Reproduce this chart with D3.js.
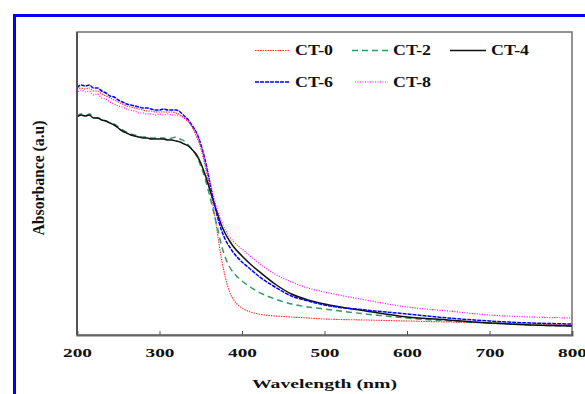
<!DOCTYPE html>
<html><head><meta charset="utf-8">
<script src="https://cdn.jsdelivr.net/npm/d3@7"></script>
<style>html,body{margin:0;padding:0;background:#fff;}svg{display:block;}</style>
</head><body>
<svg id="chart" width="585" height="394"></svg>
<script>
const wavelengths = [200,205,210,215,220,225,230,235,240,245,250,255,260,265,270,275,280,285,290,295,300,305,310,315,320,325,330,335,340,345,350,355,360,365,370,375,380,385,390,400,410,420,440,460,480,500,550,600,650,700,750,800];
const ct0 = [2.45,2.47,2.46,2.47,2.44,2.44,2.41,2.39,2.37,2.35,2.33,2.31,2.29,2.28,2.27,2.26,2.25,2.24,2.24,2.23,2.23,2.23,2.23,2.23,2.22,2.20,2.17,2.13,2.07,1.98,1.87,1.70,1.50,1.29,1.03,0.77,0.57,0.43,0.35,0.27,0.23,0.21,0.19,0.18,0.17,0.16,0.15,0.14,0.13,0.12,0.11,0.10];
const ct2 = [2.19,2.21,2.19,2.21,2.18,2.17,2.16,2.14,2.12,2.11,2.08,2.05,2.03,2.01,2.00,1.99,1.98,1.98,1.97,1.97,1.97,1.97,1.96,1.97,1.98,1.96,1.94,1.90,1.85,1.79,1.69,1.57,1.42,1.25,1.08,0.90,0.77,0.68,0.62,0.54,0.48,0.43,0.36,0.31,0.28,0.26,0.21,0.17,0.14,0.12,0.10,0.09];
const ct4 = [2.18,2.20,2.19,2.20,2.17,2.17,2.15,2.14,2.12,2.10,2.07,2.04,2.02,2.00,1.99,1.98,1.97,1.97,1.96,1.96,1.96,1.96,1.95,1.95,1.94,1.93,1.91,1.89,1.85,1.80,1.72,1.61,1.48,1.35,1.22,1.10,1.01,0.94,0.88,0.79,0.71,0.64,0.51,0.41,0.35,0.31,0.24,0.18,0.15,0.12,0.10,0.09];
const ct6 = [2.47,2.50,2.49,2.50,2.47,2.47,2.44,2.42,2.39,2.38,2.35,2.33,2.31,2.30,2.29,2.28,2.27,2.27,2.26,2.25,2.25,2.26,2.25,2.25,2.25,2.23,2.19,2.15,2.09,2.02,1.91,1.76,1.57,1.36,1.19,1.05,0.95,0.88,0.82,0.73,0.66,0.59,0.48,0.39,0.34,0.30,0.25,0.21,0.17,0.14,0.12,0.11];
const ct8 = [2.41,2.45,2.43,2.44,2.40,2.41,2.37,2.36,2.33,2.31,2.29,2.28,2.26,2.25,2.24,2.22,2.22,2.21,2.21,2.20,2.21,2.20,2.21,2.20,2.20,2.19,2.17,2.14,2.08,2.01,1.90,1.75,1.57,1.40,1.25,1.14,1.05,0.98,0.93,0.86,0.79,0.72,0.61,0.53,0.47,0.43,0.35,0.28,0.24,0.20,0.18,0.17];
const seriesNames = ["CT-0","CT-2","CT-4","CT-6","CT-8"];
const xTicks = [200,300,400,500,600,700,800];

const series = [
  {name:"CT-0", values:ct0, color:"#ff3030", width:1.1, dash:"1.5,1"},
  {name:"CT-2", values:ct2, color:"#339966", width:1.5, dash:"6,4"},
  {name:"CT-4", values:ct4, color:"#111111", width:1.5, dash:null},
  {name:"CT-6", values:ct6, color:"#0000ff", width:1.5, dash:"4,1"},
  {name:"CT-8", values:ct8, color:"#ff00ff", width:1.2, dash:"1,1.5"}
];

const svg = d3.select("#chart");
const L = 77, R = 572, T = 32, B = 335;
const x = d3.scaleLinear().domain([200,800]).range([L,R]);
const y = d3.scaleLinear().domain([0,3.03]).range([B,T]);

// blue outer frame
svg.append("rect").attr("x",14.5).attr("y",15.5).attr("width",620).attr("height",420)
  .attr("fill","none").attr("stroke","#0000ff").attr("stroke-width",3);

// plot box
svg.append("rect").attr("x",L).attr("y",T).attr("width",R-L).attr("height",B-T)
  .attr("fill","none").attr("stroke","#707070").attr("stroke-width",1.5);

const line = d3.line().curve(d3.curveMonotoneX).x((d,i)=>x(wavelengths[i])).y(d=>y(d));
series.forEach(s=>{
  svg.append("path").datum(s.values).attr("d",line).attr("fill","none")
    .attr("stroke",s.color).attr("stroke-width",s.width)
    .attr("stroke-dasharray",s.dash);
});

// axes
const xAxis = d3.axisBottom(x).tickValues(xTicks).tickSize(-4).tickPadding(9).tickFormat(d3.format("d"));
const gx = svg.append("g").attr("transform",`translate(0,${B})`).call(xAxis);
gx.select(".domain").attr("stroke","#666").attr("stroke-width",2);
gx.selectAll(".tick line").attr("stroke","#555");
gx.selectAll(".tick text").attr("font-family","'Liberation Serif', 'Times New Roman', serif")
  .attr("font-weight","bold").attr("font-size",13.5).attr("fill","#111")
  .attr("dy",null).attr("y",22)
  .attr("textLength",29).attr("lengthAdjust","spacingAndGlyphs");
svg.append("line").attr("x1",L).attr("x2",L).attr("y1",T).attr("y2",B).attr("stroke","#555").attr("stroke-width",2);

// axis titles
svg.append("text").attr("x",(L+R)/2).attr("y",388).attr("text-anchor","middle")
  .attr("font-family","'Liberation Serif', serif").attr("font-weight","bold").attr("font-size",13)
  .attr("fill","#111").attr("textLength",145).attr("lengthAdjust","spacingAndGlyphs")
  .text("Wavelength (nm)");
svg.append("text").attr("transform","translate(44,178) rotate(-90)").attr("text-anchor","middle")
  .attr("font-family","'Liberation Serif', serif").attr("font-weight","bold").attr("font-size",16)
  .attr("fill","#111").attr("textLength",115).attr("lengthAdjust","spacingAndGlyphs")
  .text("Absorbance (a.u)");

// legend
const legendPos = [
  {lx:255, row:0, tx:295}, {lx:352, row:0, tx:393}, {lx:450, row:0, tx:491},
  {lx:255, row:1, tx:295}, {lx:355, row:1, tx:393}
];
series.forEach((s,i)=>{
  const p = legendPos[i];
  const ly = p.row===0 ? 50.5 : 82;
  const base = p.row===0 ? 55 : 87;
  svg.append("line").attr("x1",p.lx).attr("x2",p.tx-5).attr("y1",ly).attr("y2",ly)
    .attr("stroke",s.color).attr("stroke-width",s.width).attr("stroke-dasharray",s.dash);
  svg.append("text").attr("x",p.tx).attr("y",base)
    .attr("font-family","'Liberation Serif', serif").attr("font-weight","bold").attr("font-size",15)
    .attr("fill","#111").attr("textLength",38).attr("lengthAdjust","spacingAndGlyphs")
    .text(seriesNames[i]);
});
</script>
</body></html>
